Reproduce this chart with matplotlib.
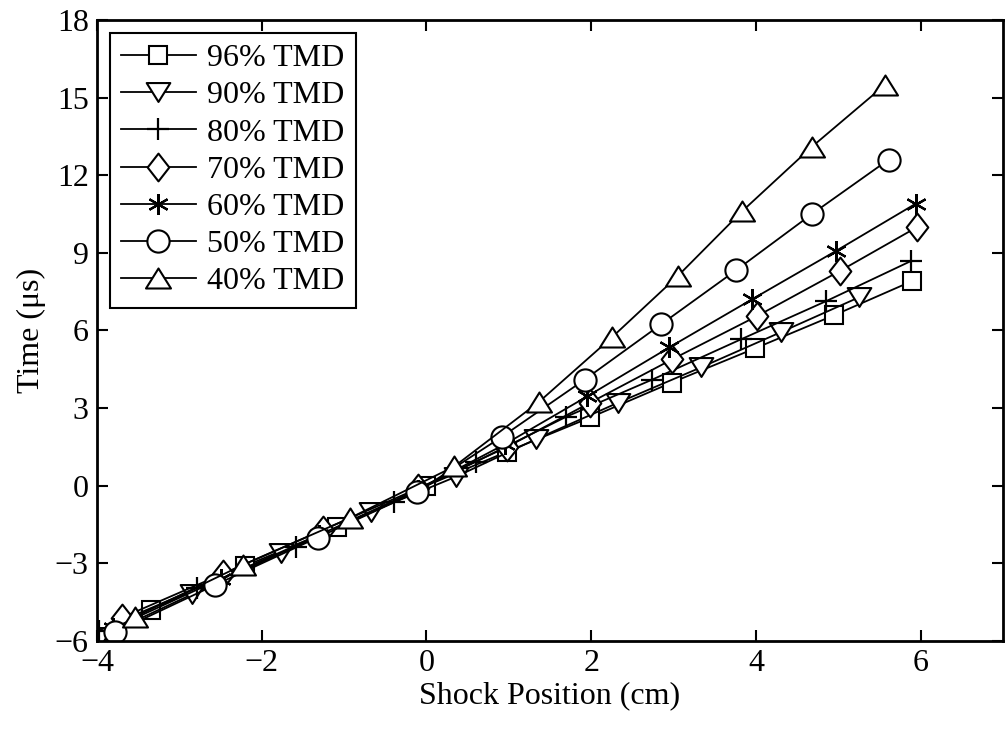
import matplotlib
matplotlib.use("Agg")
import matplotlib.pyplot as plt
from matplotlib.path import Path

plt.rcParams['font.family'] = ['Liberation Serif', 'DejaVu Serif']
plt.rcParams['mathtext.fontset'] = 'stix'

labels = ["96% TMD", "90% TMD", "80% TMD", "70% TMD", "60% TMD", "50% TMD", "40% TMD"]

x96 = [-3.35, -2.2, -1.08, 0.0, 0.98, 1.99, 2.98, 3.99, 4.95, 5.89]
y96 = [-4.8, -3.1, -1.6, 0.0, 1.32, 2.64, 3.99, 5.31, 6.59, 7.9]

x90 = [-3.96, -2.85, -1.76, -0.67, 0.36, 1.33, 2.32, 3.33, 4.3, 5.25]
y90 = [-5.85, -4.2, -2.6, -1.0, 0.35, 1.8, 3.2, 4.57, 5.93, 7.28]

x80 = [-3.98, -2.78, -1.58, -0.39, 0.6, 1.7, 2.74, 3.82, 4.85, 5.88]
y80 = [-5.6, -3.95, -2.35, -0.62, 0.93, 2.67, 4.1, 5.66, 7.13, 8.68]

x70 = [-3.7, -2.47, -1.25, -0.1, 0.98, 1.98, 2.98, 4.01, 5.02, 5.96]
y70 = [-5.1, -3.4, -1.7, -0.1, 1.5, 3.2, 4.88, 6.55, 8.3, 10.0]

x60 = [-3.8, -2.5, -1.3, -0.1, 0.95, 1.95, 2.95, 3.95, 4.97, 5.94]
y60 = [-5.5, -3.6, -1.9, -0.15, 1.6, 3.45, 5.35, 7.2, 9.07, 10.9]

x50 = [-3.78, -2.57, -1.32, -0.11, 0.92, 1.92, 2.85, 3.76, 4.68, 5.61]
y50 = [-5.66, -3.84, -2.0, -0.23, 1.9, 4.1, 6.24, 8.33, 10.5, 12.6]

x40 = [-3.54, -2.23, -0.93, 0.34, 1.37, 2.25, 3.05, 3.83, 4.68, 5.57]
y40 = [-5.07, -3.06, -1.25, 0.75, 3.25, 5.73, 8.1, 10.6, 13.1, 15.5]

xticks = [-4, -2, 0, 2, 4, 6]
yticks = [-6, -3, 0, 3, 6, 9, 12, 15, 18]

# marker shapes (MATLAB-like)
diamond = Path([(0, 1), (0.78, 0), (0, -1), (-0.78, 0), (0, 1)], closed=True)
tri_up = Path([(0, 0.8), (1, -0.8), (-1, -0.8), (0, 0.8)], closed=True)
tri_dn = Path([(0, -0.8), (1, 0.8), (-1, 0.8), (0, -0.8)], closed=True)

styles = [
    dict(marker='s', ms=12.5),
    dict(marker=tri_dn, ms=17),
    dict(marker='+', ms=16, mew=1.6),
    dict(marker=diamond, ms=20),
    dict(marker=(6, 2, 0), ms=15, mew=1.6),
    dict(marker='o', ms=16),
    dict(marker=tri_up, ms=18),
]

series = [(x96, y96), (x90, y90), (x80, y80), (x70, y70), (x60, y60), (x50, y50), (x40, y40)]

fig = plt.figure(figsize=(10.05, 7.29), dpi=100)
ax = fig.add_axes([0.0965, 0.1207, 0.9015, 0.8519])

for (xs, ys), lab, st in zip(series, labels, styles):
    kw = dict(color='black', lw=1.3, mfc='white', mec='black', mew=st.pop('mew', 1.5))
    kw.update(st)
    ax.plot(xs, ys, label=lab, **kw)

ax.set_xlim(-4, 7)
ax.set_ylim(-6, 18)
ax.set_xticks(xticks)
ax.set_yticks(yticks)
ax.tick_params(direction='in', length=8, width=1.5, top=True, right=True,
               labelsize=23, pad=6)
for sp in ax.spines.values():
    sp.set_linewidth(2)
ax.set_xlabel("Shock Position (cm)", fontsize=23, labelpad=2)
ax.set_ylabel("Time (μs)", fontsize=23, labelpad=6)

leg = ax.legend(loc='upper left', fontsize=23, frameon=True, fancybox=False,
                edgecolor='black', handlelength=2.35, labelspacing=0.245,
                borderpad=0.35, handletextpad=0.35, borderaxespad=0.4)
leg.get_frame().set_linewidth(1.5)
leg.get_frame().set_alpha(1)

fig.savefig("out.png", dpi=100)
